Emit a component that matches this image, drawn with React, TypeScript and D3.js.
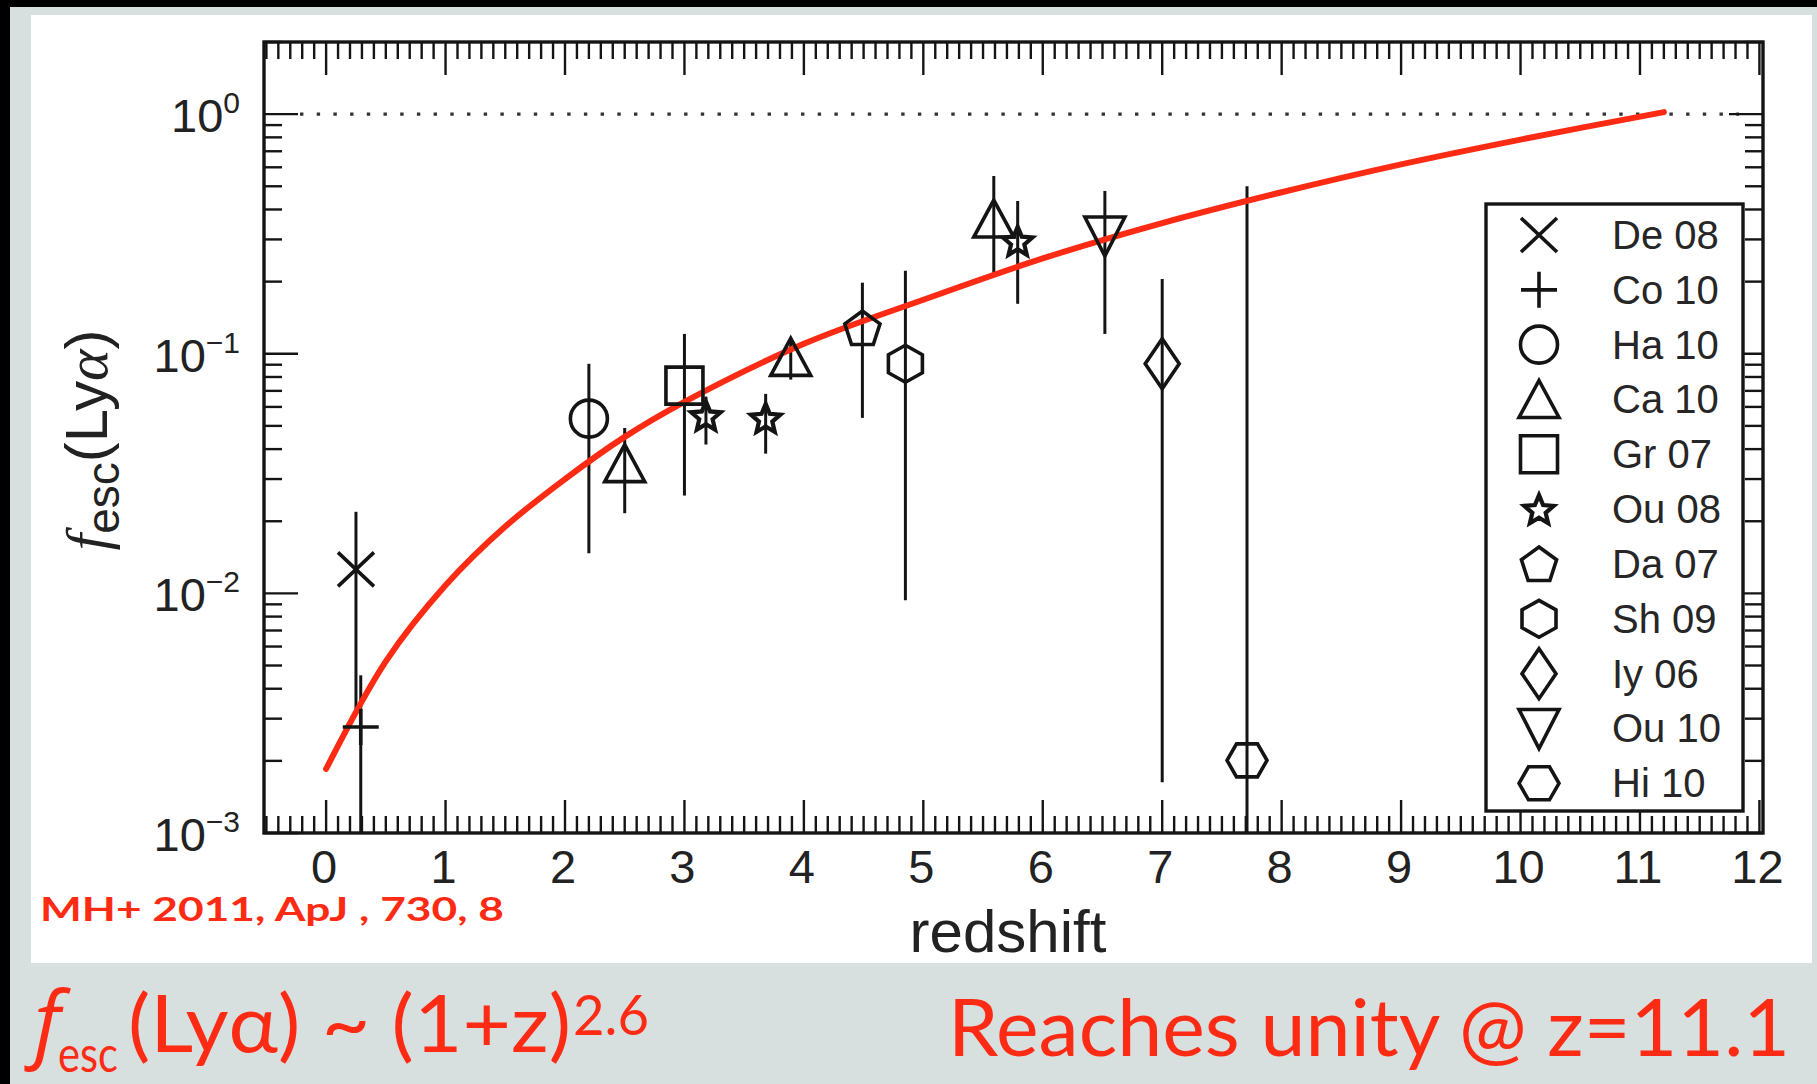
import React from "react";
import * as d3 from "d3";

const W = 1817;
const H = 1084;

// ---- data ----
const LEGEND_NAMES = ["De 08", "Co 10", "Ha 10", "Ca 10", "Gr 07", "Ou 08", "Da 07", "Sh 09", "Iy 06", "Ou 10", "Hi 10"];
const LEGEND_SHAPES = ["cross", "plus", "circle", "triUp", "square", "star", "pentagon", "hexV", "diamond", "triDown", "hexH"];

const POINT_SOURCE = ["De 08", "Co 10", "Ha 10", "Ca 10", "Gr 07", "Ou 08", "Ou 08", "Ca 10", "Da 07", "Sh 09", "Ca 10", "Ou 08", "Ou 10", "Iy 06", "Hi 10"];
const POINT_Z = [0.25, 0.29, 2.2, 2.5, 3.0, 3.18, 3.68, 3.89, 4.49, 4.85, 5.59, 5.79, 6.52, 7.0, 7.71];
const POINT_F = [0.0126, 0.00277, 0.0536, 0.0348, 0.0736, 0.0552, 0.054, 0.0966, 0.128, 0.0908, 0.365, 0.296, 0.31, 0.0908, 0.00201];
const POINT_LO = [0.0032, 0.0005, 0.0147, 0.0216, 0.0256, 0.0418, 0.0383, 0.078, 0.054, 0.00935, 0.2175, 0.1616, 0.121, 0.00163, 0.0005];
const POINT_HI = [0.0219, 0.00455, 0.0908, 0.049, 0.121, 0.0662, 0.068, 0.1166, 0.198, 0.222, 0.552, 0.434, 0.478, 0.205, 0.5];

const CURVE_Z = [0, 0.5, 1, 1.5, 2, 2.5, 3, 4, 5, 6, 7, 8, 9, 10, 11.2];
const CURVE_F = [0.00185, 0.0052, 0.0108, 0.019, 0.030, 0.045, 0.063, 0.11, 0.168, 0.25, 0.351, 0.472, 0.617, 0.783, 1.02];

const X_TICKS = [0, 1, 2, 3, 4, 5, 6, 7, 8, 9, 10, 11, 12];
const Y_DECADES = [-3, -2, -1, 0];

const x = d3.scaleLinear().domain([-0.52, 12.03]).range([264, 1763]);
const y = d3.scaleLog().domain([1e-3, 2]).range([833, 42]);

const RED = "#fe2b14";
const INK = "#141414";
const SANS = "'Liberation Sans', Arial, Helvetica, sans-serif";

function poly(cx: number, cy: number, pts: number[][]) {
  return "M" + pts.map(([a, b]) => `${(cx + a).toFixed(2)},${(cy + b).toFixed(2)}`).join("L") + "Z";
}

function shapePath(kind: string, cx: number, cy: number): string {
  switch (kind) {
    case "cross":
      return `M${cx - 18},${cy - 17}L${cx + 18},${cy + 17}M${cx - 18},${cy + 17}L${cx + 18},${cy - 17}`;
    case "plus":
      return `M${cx - 18},${cy}H${cx + 18}M${cx},${cy - 18}V${cy + 18}`;
    case "circle": {
      const r = 18.5;
      return `M${cx - r},${cy}a${r},${r} 0 1,0 ${2 * r},0a${r},${r} 0 1,0 ${-2 * r},0Z`;
    }
    case "triUp":
      return poly(cx, cy, [[0, -19], [20, 18], [-20, 18]]);
    case "triDown":
      return poly(cx, cy, [[-20, -19], [20, -19], [0, 20]]);
    case "square":
      return poly(cx, cy, [[-18.5, -18.5], [18.5, -18.5], [18.5, 18.5], [-18.5, 18.5]]);
    case "star": {
      const pts: number[][] = [];
      for (let i = 0; i < 10; i++) {
        const a = -Math.PI / 2 + (i * Math.PI) / 5;
        const r = i % 2 === 0 ? 15.5 : 7;
        pts.push([r * Math.cos(a), r * Math.sin(a) + 1.5]);
      }
      return poly(cx, cy, pts);
    }
    case "pentagon": {
      const pts: number[][] = [];
      for (let i = 0; i < 5; i++) {
        const a = -Math.PI / 2 + (i * 2 * Math.PI) / 5;
        pts.push([18.5 * Math.cos(a), 18.5 * Math.sin(a) + 1.5]);
      }
      return poly(cx, cy, pts);
    }
    case "hexV":
      return poly(cx, cy, [[0, -18.5], [17, -9], [17, 9], [0, 18.5], [-17, 9], [-17, -9]]);
    case "hexH":
      return poly(cx, cy, [[-20, 0], [-10.5, -16.5], [10.5, -16.5], [20, 0], [10.5, 16.5], [-10.5, 16.5]]);
    case "diamond":
      return poly(cx, cy, [[0, -25], [17, 0], [0, 25], [-17, 0]]);
    default:
      return "";
  }
}

export default function App() {
  const [x0, x1] = x.range();
  const [yb, yt] = y.range();

  const xMinor: number[] = [];
  for (let i = -5; i <= 120; i++) if (i % 10 !== 0) xMinor.push(i / 10);
  const yMinor: number[] = [];
  Y_DECADES.forEach((d) => {
    for (let m = 2; m <= 9; m++) {
      const v = m * Math.pow(10, d);
      if (v <= 2) yMinor.push(v);
    }
  });

  const curve = d3
    .line<number>()
    .x((_, i) => x(CURVE_Z[i]))
    .y((f) => y(f))
    .curve(d3.curveCatmullRom.alpha(0.5))(CURVE_F) as string;

  const shapeOf = (src: string) => LEGEND_SHAPES[LEGEND_NAMES.indexOf(src)];
  const markW = (kind: string) => (kind === "star" ? 4.2 : 3.6);

  const legX = 1486, legY = 204, legW = 257, legH = 607;
  const legRow0 = 235, legStep = 54.83;

  return (
    <svg width={W} height={H} style={{ position: "absolute", left: 0, top: 0 }} xmlns="http://www.w3.org/2000/svg">
      <defs>
        <clipPath id="plotClip">
          <rect x={x0} y={yt} width={x1 - x0} height={yb - yt} />
        </clipPath>
      </defs>
      {/* slide background */}
      <rect x={0} y={0} width={W} height={H} fill="#000" />
      <rect x={10} y={7} width={W - 10} height={H - 7} fill="#d8dfdf" />
      <rect x={31} y={15} width={1812 - 31} height={963 - 15} fill="#ffffff" />

      {/* dotted unity line */}
      <line x1={x0 + 36} x2={x1 - 24} y1={y(1)} y2={y(1)} stroke="#333" strokeWidth={3.4} strokeDasharray="3.4 13.3" />

      {/* x ticks bottom & top */}
      {xMinor.map((t) => (
        <g key={"xm" + t}>
          <line x1={x(t)} x2={x(t)} y1={yb} y2={yb - 17} stroke={INK} strokeWidth={2.4} />
          <line x1={x(t)} x2={x(t)} y1={yt} y2={yt + 17} stroke={INK} strokeWidth={2.4} />
        </g>
      ))}
      {X_TICKS.map((t) => (
        <g key={"xM" + t}>
          <line x1={x(t)} x2={x(t)} y1={yb} y2={yb - 33} stroke={INK} strokeWidth={2.4} />
          <line x1={x(t)} x2={x(t)} y1={yt} y2={yt + 33} stroke={INK} strokeWidth={2.4} />
          <text x={x(t) - 2} y={883} textAnchor="middle" fontFamily={SANS} fontSize={47} fill="#222">
            {t}
          </text>
        </g>
      ))}

      {/* y ticks left & right */}
      {yMinor.map((v) => (
        <g key={"ym" + v}>
          <line x1={x0} x2={x0 + 18} y1={y(v)} y2={y(v)} stroke={INK} strokeWidth={2.4} />
          <line x1={x1} x2={x1 - 18} y1={y(v)} y2={y(v)} stroke={INK} strokeWidth={2.4} />
        </g>
      ))}
      {Y_DECADES.map((d) => (
        <g key={"yM" + d}>
          <line x1={x0} x2={x0 + 34} y1={y(Math.pow(10, d))} y2={y(Math.pow(10, d))} stroke={INK} strokeWidth={2.4} />
          <line x1={x1} x2={x1 - 34} y1={y(Math.pow(10, d))} y2={y(Math.pow(10, d))} stroke={INK} strokeWidth={2.4} />
          <text x={240} y={y(Math.pow(10, d)) + 18} textAnchor="end" fontFamily={SANS} fontSize={47} fill="#222">
            10
            <tspan fontSize={30} dy={-19}>
              {d === 0 ? "0" : "\u2212" + Math.abs(d)}
            </tspan>
          </text>
        </g>
      ))}

      {/* frame */}
      <rect x={x0} y={yt} width={x1 - x0} height={yb - yt} fill="none" stroke={INK} strokeWidth={3.4} />

      {/* error bars */}
      <g clipPath="url(#plotClip)">
        {POINT_Z.map((z, i) => (
          <line
            key={"eb" + i}
            x1={x(z)}
            x2={x(z)}
            y1={y(POINT_HI[i])}
            y2={y(POINT_LO[i])}
            stroke={INK}
            strokeWidth={3}
          />
        ))}
      </g>

      {/* fit curve */}
      <path d={curve} fill="none" stroke={RED} strokeWidth={6} strokeLinecap="round" />

      {/* markers */}
      {POINT_Z.map((z, i) => {
        const k = shapeOf(POINT_SOURCE[i]);
        return (
          <path
            key={"pt" + i}
            d={shapePath(k, x(z), y(POINT_F[i]))}
            fill="none"
            stroke={INK}
            strokeWidth={markW(k)}
            strokeLinejoin="miter"
          />
        );
      })}

      {/* legend */}
      <rect x={legX} y={legY} width={legW} height={legH} fill="#fff" stroke={INK} strokeWidth={3.4} />
      {LEGEND_NAMES.map((n, i) => {
        const cy = legRow0 + i * legStep;
        const k = LEGEND_SHAPES[i];
        return (
          <g key={"lg" + n}>
            <path d={shapePath(k, 1539, cy)} fill="none" stroke={INK} strokeWidth={markW(k)} />
            <text x={1612} y={cy + 14} fontFamily={SANS} fontSize={40} fill="#262626">
              {n}
            </text>
          </g>
        );
      })}

      {/* axis titles */}
      <text x={1008} y={952} textAnchor="middle" fontFamily={SANS} fontSize={60} fill="#222">
        redshift
      </text>
      <g transform="translate(107,440) rotate(-90)">
        <text x={0} y={0} textAnchor="middle" fontFamily={SANS} fontSize={60} fill="#222">
          <tspan fontFamily="'Liberation Serif', serif" fontStyle="italic">f</tspan>
          <tspan fontSize={46} dy={12}>esc</tspan>
          <tspan dy={-12}>(Ly</tspan>
          <tspan fontFamily="'Liberation Serif', serif" fontStyle="italic">α</tspan>
          <tspan>)</tspan>
        </text>
      </g>

      {/* citation */}
      <text x={40} y={921} fontFamily="Lato, 'Open Sans', sans-serif" fontWeight={700} fontSize={33} fill={RED} textLength={464} lengthAdjust="spacingAndGlyphs">
        MH+ 2011, ApJ , 730, 8
      </text>

      {/* slide captions */}
      <text x={34} y={1052} fontFamily="'Open Sans', sans-serif" fontStyle="italic" fontSize={84} fill={RED}>
        f
      </text>
      <text x={58} y={1072} fontFamily="Lato, 'Open Sans', sans-serif" fontSize={50} fill={RED} textLength={60} lengthAdjust="spacingAndGlyphs">
        esc
      </text>
      <text x={128} y={1052} fontFamily="Lato, 'Open Sans', sans-serif" fontSize={80} fill={RED} textLength={443} lengthAdjust="spacingAndGlyphs">
        (Lyα) ~ (1+z)
      </text>
      <text x={573} y={1035} fontFamily="Lato, 'Open Sans', sans-serif" fontSize={56} fill={RED} textLength={76} lengthAdjust="spacingAndGlyphs">
        2.6
      </text>
      <text x={948} y={1056} fontFamily="Lato, 'Open Sans', sans-serif" fontSize={80} fill={RED} textLength={842} lengthAdjust="spacingAndGlyphs">
        Reaches unity @ z=11.1
      </text>
    </svg>
  );
}
